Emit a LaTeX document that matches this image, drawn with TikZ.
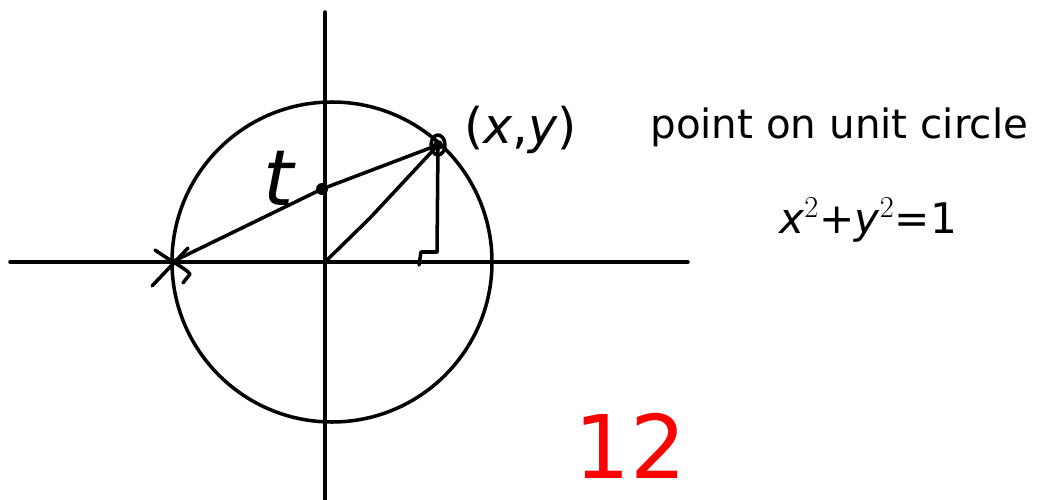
\documentclass[tikz,border=0pt]{standalone}
\usepackage{fontspec}
\setmainfont{DejaVu Sans}
\begin{document}
\begin{tikzpicture}[x=0.02cm,y=-0.02cm,
  ink/.style={line width=2pt,line cap=round,line join=round},
  hand/.style={font=\fontsize{24}{26}\selectfont,inner sep=0pt},
  redink/.style={text=red,font=\fontsize{50}{52}\selectfont,inner sep=0pt}]
\clip (0,0) rectangle (1055,500);
\fill[white] (0,0) rectangle (1055,500);
% axes
\coordinate (xl) at (10,262);
\coordinate (xr) at (688,262);
\coordinate (yt) at (325,12);
\coordinate (yb) at (325,500);
\draw[ink] (xl) -- (xr);
\draw[ink] (yt) -- (yb);
% circle
\coordinate (c) at (332,262);
\draw[ink] (c) circle [radius=160];
% points
\coordinate (O) at (325,262);
\coordinate (A) at (172,262);
\coordinate (P) at (438,145);
\coordinate (T) at (322,189);
\coordinate (F) at (437,252);
\draw[ink] (A) -- (T) -- (P);
\draw[ink] (O) -- (370,218) -- (P);
\draw[ink] (P) -- (F);
% right-angle mark
\draw[ink] (419,265) -- (421,252) -- (F);
% cross at A
\draw[ink] (152,286) -- (188,248);
\draw[ink] (155,250) .. controls (172,262) and (185,268) .. (190,274) -- (183,283);
% dots
\fill (T) circle [radius=6];
\fill (P) circle [radius=5];
\draw[ink] (P) ellipse [x radius=7, y radius=10];
% labels
\node[hand,font=\fontsize{44}{46}\selectfont] (tl) at (280,178) {\textit{t}};
\node[hand,font=\fontsize{28}{30}\selectfont,anchor=west] (pl) at (464,130) {(\textit{x},\textit{y})};
\node[hand,font=\fontsize{23}{25}\selectfont,anchor=west] (pc) at (650,127) {point on unit circle};
\node[hand] (eq) at (868,220) {\textit{x}$^{2}$+\textit{y}$^{2}$=1};
\node[redink,anchor=base west] (r) at (574,478) {12};
\end{tikzpicture}
\end{document}
